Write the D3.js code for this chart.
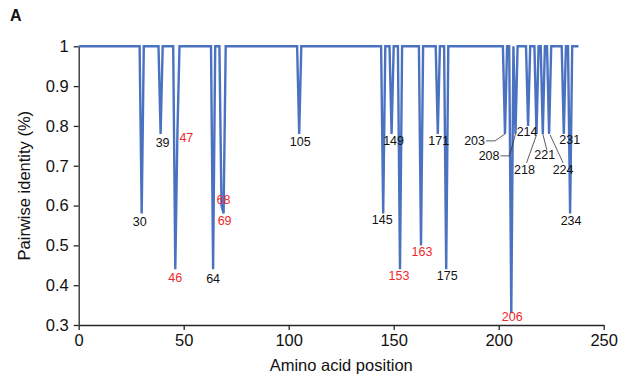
<!DOCTYPE html>
<html><head><meta charset="utf-8">
<script src="https://cdn.jsdelivr.net/npm/d3@7"></script>
<style>
body{margin:0;background:#fff;}
svg{display:block;font-family:"Liberation Sans",Arial,Helvetica,sans-serif;}
</style>
</head><body>
<svg id="chart" width="621" height="383"></svg>
<script>
// ---- data ----
const firstPosition = 0;
const lastPosition = 238;
const baselineIdentity = 1;
const dipPositions = [30, 39, 46, 47, 64, 68, 69, 105, 145, 149, 153, 163, 171, 175, 203, 206, 208, 214, 218, 221, 224, 231, 234];
const dipValues    = [0.58, 0.78, 0.44, 0.78, 0.44, 0.60, 0.58, 0.78, 0.58, 0.78, 0.44, 0.50, 0.78, 0.44, 0.78, 0.33, 0.78, 0.80, 0.78, 0.78, 0.78, 0.78, 0.58];
const redLabelPositions = [46, 47, 68, 69, 153, 163, 206];
const xTickValues = [0, 50, 100, 150, 200, 250];
const yTickValues = [0.3, 0.4, 0.5, 0.6, 0.7, 0.8, 0.9, 1];
const xTitle = "Amino acid position";
const yTitle = "Pairwise identity (%)";
const panelLetter = "A";

// ---- layout for labels (pixel offsets from each dip tip) ----
const labelLayout = {
  30:{dx:-2,dy:8}, 39:{dx:2,dy:9}, 46:{dx:0,dy:8}, 47:{dx:2,dy:4,anchor:"start"},
  64:{dx:0,dy:9}, 68:{dx:2,dy:-6}, 69:{dx:1,dy:7}, 105:{dx:1,dy:8},
  145:{dx:-1,dy:6}, 149:{dx:2,dy:7}, 153:{dx:-1,dy:6}, 163:{dx:1,dy:6},
  171:{dx:1,dy:7}, 175:{dx:1,dy:6}, 206:{dx:1,dy:3},
  203:{dx:-20,dy:7,anchor:"end",leader:[[-19,7],[-10,7],[0,0]]},
  208:{dx:-16,dy:22,anchor:"end",leader:[[-15,22],[-6,22],[0,0]]},
  214:{dx:-1,dy:6},
  218:{dx:-12,dy:36,leader:[[-10,29],[0,1]]},
  221:{dx:2,dy:21,leader:[[4,16],[0,0]]},
  224:{dx:14,dy:36,leader:[[14,29],[1,1]]},
  231:{dx:6,dy:6},
  234:{dx:1,dy:7}
};

const series = d3.range(firstPosition, lastPosition + 1).map(p => {
  const i = dipPositions.indexOf(p);
  return {pos: p, val: i >= 0 ? dipValues[i] : baselineIdentity};
});

const svg = d3.select("#chart");
const x = d3.scaleLinear().domain([0, 250]).range([78.7, 603.7]);
const y = d3.scaleLinear().domain([0.3, 1]).range([325, 46.3]);
const axisColor = "#262626";
const blue = "#4a72c0";
const red = "#f0282d";

// axes
const xAxis = svg.append("g").attr("transform", `translate(0,${y(0.3)})`)
  .call(d3.axisBottom(x).tickValues(xTickValues).tickSize(5).tickSizeOuter(0).tickPadding(4));
const yAxis = svg.append("g").attr("transform", `translate(${x(0)},0)`)
  .call(d3.axisLeft(y).tickValues(yTickValues).tickSize(5).tickSizeOuter(0).tickPadding(5).tickFormat(d3.format(".1~f")));
[xAxis, yAxis].forEach(g => {
  g.select(".domain").attr("stroke", axisColor).attr("stroke-width", 1.3);
  g.selectAll(".tick line").attr("stroke", axisColor).attr("stroke-width", 1.3);
  g.selectAll(".tick text").attr("fill", "#111").style("font-size", "16.5px")
    .style("font-family", "'Liberation Sans', Arial, sans-serif");
});

// line
svg.append("path").datum(series)
  .attr("fill", "none").attr("stroke", blue).attr("stroke-width", 2.4)
  .attr("stroke-linejoin", "miter").attr("stroke-miterlimit", 3)
  .attr("d", d3.line().x(d => x(d.pos)).y(d => y(d.val)));

// labels
const lg = svg.append("g");
dipPositions.forEach((p, i) => {
  const L = labelLayout[p];
  if (!L) return;
  const tx = x(p), ty = y(dipValues[i]);
  if (L.leader) {
    lg.append("path")
      .attr("d", d3.line()(L.leader.map(([a, b]) => [tx + a, ty + b])))
      .attr("fill", "none").attr("stroke", "#333").attr("stroke-width", 0.8);
  }
  lg.append("text")
    .attr("x", tx + L.dx).attr("y", ty + L.dy).attr("dy", "0.36em")
    .attr("text-anchor", L.anchor || "middle")
    .attr("fill", redLabelPositions.includes(p) ? red : "#111")
    .style("font-size", "12.5px")
    .text(p);
});

// titles
svg.append("text").attr("x", (x(0) + x(250)) / 2).attr("y", 371)
  .attr("text-anchor", "middle").style("font-size", "16.5px").attr("fill", "#111").text(xTitle);
svg.append("text").attr("transform", `translate(30,${(y(0.3)+y(1))/2}) rotate(-90)`)
  .attr("text-anchor", "middle").style("font-size", "16.5px").attr("fill", "#111").text(yTitle);
svg.append("text").attr("x", 10).attr("y", 21).style("font-size", "16px")
  .style("font-weight", "bold").attr("fill", "#111").text(panelLetter);
</script>
</body></html>
